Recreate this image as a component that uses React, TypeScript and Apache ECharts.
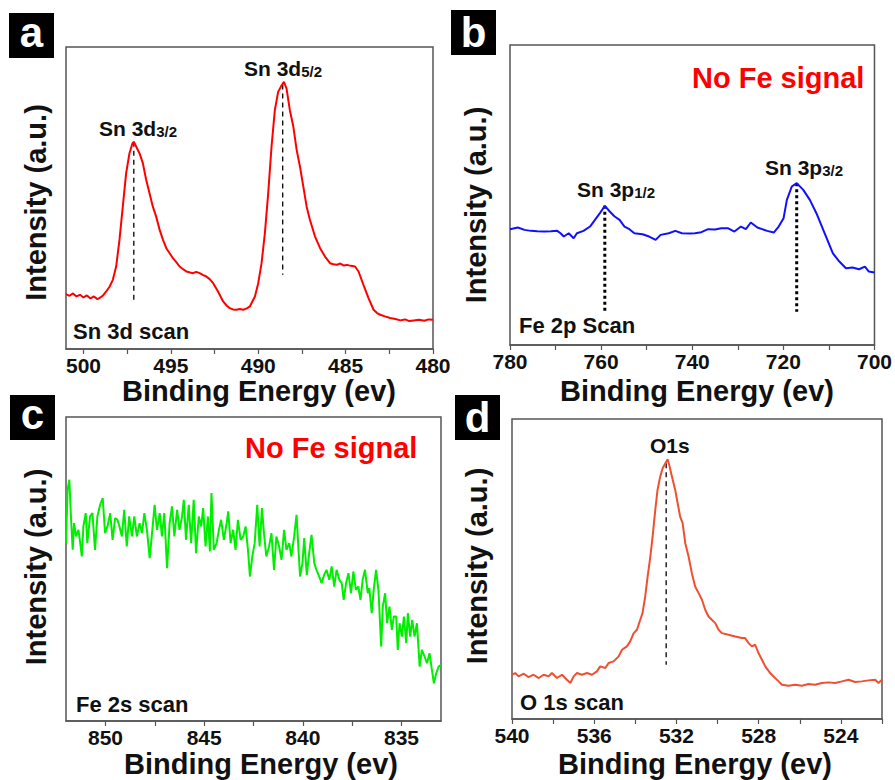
import React, { useEffect, useRef } from 'react';
import * as echarts from 'echarts';

const FONT = "'Liberation Sans', Arial, Helvetica, sans-serif";

// ---------- Panel a: Sn 3d scan ----------
const sn3dScan: [number, number][] = [
  [501.00,165],[500.80,160],[500.60,167],[500.40,158],[500.20,163],[500.00,155],[499.80,161],[499.60,152],[499.40,158],[499.20,150],[499.09,153],[498.90,160],[498.70,173],[498.50,188],[498.32,208],[498.13,248],[497.94,328],[497.75,428],[497.56,528],[497.37,588],[497.20,618],[497.12,623],[496.98,608],[496.79,588],[496.60,558],[496.41,508],[496.22,468],[496.03,428],[495.84,398],[495.64,358],[495.45,328],[495.26,303],[495.07,288],[494.88,273],[494.70,262],[494.50,248],[494.30,240],[494.11,233],[493.90,230],[493.73,228],[493.55,232],[493.35,228],[493.15,222],[492.97,218],[492.78,210],[492.58,198],[492.30,173],[492.01,143],[491.80,130],[491.63,123],[491.45,119],[491.25,118],[491.05,120],[490.86,118],[490.65,122],[490.48,128],[490.19,158],[490.00,198],[489.81,258],[489.62,348],[489.43,468],[489.24,608],[489.05,718],[488.86,773],[488.66,793],[488.53,803],[488.38,783],[488.19,718],[487.99,668],[487.80,598],[487.61,548],[487.42,488],[487.23,428],[487.04,388],[486.75,338],[486.46,303],[486.18,278],[485.89,258],[485.70,255],[485.51,253],[485.30,257],[485.10,251],[484.93,253],[484.70,250],[484.46,248],[484.26,233],[483.98,193],[483.69,153],[483.40,118],[483.20,108],[483.02,103],[482.75,98],[482.45,93],[482.15,90],[481.87,86],[481.60,89],[481.35,84],[481.11,86],[480.80,88],[480.50,85],[480.25,89],[480.00,88]
];
// [energy, top, bottom]
const sn3dPeaks: [number, number, number][] = [[497.12, 623, 148], [488.60, 795, 223]];
const aTicks = [480, 482.5, 485, 487.5, 490, 492.5, 495, 497.5, 500];
const aLabels = [480, 485, 490, 495, 500];

// ---------- Panel b: Fe 2p scan ----------
const fe2pScan: [number, number][] = [
  [780,347],[778.27,352],[776.83,345],[775.39,342],[774.00,341],[772.51,340],[771.00,341],[769.63,342],[768.91,335],[768.19,325],[767.11,335],[766.03,320],[765.31,335],[763.87,342],[762.43,355],[761.35,375],[760.27,395],[759.19,417],[758.11,400],[757.03,385],[755.95,375],[754.87,355],[753.79,347],[752.71,335],[750.91,332],[749.47,325],[748.03,315],[746.95,330],[745.15,335],[743.71,342],[742.27,335],[740.50,334],[739.39,335],[738.00,338],[736.51,347],[735.00,346],[733.63,350],[732.19,350],[730.75,340],[729.31,355],[728.23,347],[727.15,367],[725.71,352],[723.55,342],[722.11,337],[721.03,355],[719.95,380],[719.23,435],[718.15,475],[717.07,485],[715.63,465],[714.19,435],[712.75,395],[710.95,335],[709.15,275],[707.71,250],[706.27,230],[704.83,232],[703.39,227],[702.10,235],[701.23,220],[700.00,217]
];
const fe2pPeaks: [number, number, number][] = [[759.19, 417, 100], [717.07, 485, 100]];
const bTicks = [700, 710, 720, 730, 740, 750, 760, 770, 780];
const bLabels = [700, 720, 740, 760, 780];

// ---------- Panel c: Fe 2s scan ----------
const fe2sScan: [number, number][] = [
  [852.00,533],[851.92,693],[851.83,723],[851.75,613],[851.66,513],[851.59,593],[851.49,553],[851.37,573],[851.29,538],[851.20,493],[851.12,583],[851.00,623],[850.92,533],[850.78,613],[850.66,623],[850.53,513],[850.41,613],[850.27,648],[850.14,668],[850.02,563],[849.90,583],[849.76,623],[849.64,543],[849.51,608],[849.39,603],[849.29,583],[849.17,553],[849.05,633],[848.92,523],[848.80,613],[848.66,553],[848.54,613],[848.41,553],[848.27,593],[848.15,563],[848.03,623],[847.90,573],[847.76,488],[847.64,563],[847.51,648],[847.39,573],[847.25,623],[847.14,553],[847.02,623],[846.88,458],[846.75,593],[846.63,643],[846.51,553],[846.37,633],[846.25,573],[846.12,613],[846.03,663],[845.92,543],[845.78,648],[845.66,533],[845.53,663],[845.41,503],[845.27,613],[845.15,583],[845.05,638],[844.93,523],[844.81,613],[844.71,508],[844.63,683],[844.51,513],[844.37,533],[844.25,573],[844.14,603],[844.00,543],[843.86,593],[843.78,628],[843.66,533],[843.53,573],[843.41,513],[843.29,603],[843.15,543],[843.02,553],[842.90,583],[842.78,513],[842.68,433],[842.56,493],[842.44,533],[842.31,648],[842.19,523],[842.07,638],[841.97,563],[841.85,493],[841.71,523],[841.59,563],[841.46,453],[841.34,553],[841.20,523],[841.08,483],[840.95,573],[840.83,513],[840.69,533],[840.58,493],[840.44,553],[840.32,618],[840.22,513],[840.14,433],[840.02,473],[839.93,548],[839.80,438],[839.68,503],[839.56,558],[839.42,473],[839.31,453],[839.17,433],[839.05,413],[838.92,438],[838.80,453],[838.66,423],[838.54,463],[838.41,403],[838.29,453],[838.15,423],[838.03,413],[837.93,363],[837.81,413],[837.69,443],[837.56,383],[837.44,448],[837.31,393],[837.19,403],[837.08,363],[836.97,423],[836.85,453],[836.71,383],[836.63,398],[836.51,323],[836.41,393],[836.29,453],[836.17,393],[836.03,223],[835.95,343],[835.83,383],[835.73,293],[835.61,343],[835.49,273],[835.39,313],[835.27,313],[835.19,213],[835.10,293],[834.98,253],[834.88,313],[834.76,233],[834.68,323],[834.56,253],[834.46,303],[834.34,253],[834.22,293],[834.08,163],[833.97,213],[833.83,193],[833.71,173],[833.58,203],[833.46,153],[833.36,113],[833.24,143],[833.12,163],[833.00,168]
];
const cTicks = [835, 837.5, 840, 842.5, 845, 847.5, 850];
const cLabels = [835, 840, 845, 850];

// ---------- Panel d: O 1s scan ----------
const o1sScan: [number, number][] = [
  [540.00,133],[539.84,138],[539.68,128],[539.43,136],[539.19,126],[538.95,133],[538.70,123],[538.46,133],[538.22,128],[538.06,138],[537.81,123],[537.57,133],[537.33,118],[537.16,108],[537.00,128],[536.84,138],[536.60,133],[536.35,138],[536.11,133],[535.87,143],[535.71,158],[535.46,153],[535.30,168],[535.06,173],[534.81,188],[534.65,208],[534.41,218],[534.25,233],[534.08,258],[533.92,268],[533.76,298],[533.65,318],[533.52,368],[533.40,428],[533.27,488],[533.16,548],[533.03,628],[532.92,688],[532.79,728],[532.67,753],[532.54,768],[532.43,780],[532.35,763],[532.22,728],[532.06,688],[531.94,648],[531.82,608],[531.70,588],[531.57,528],[531.41,488],[531.25,438],[531.09,398],[530.92,378],[530.76,358],[530.60,328],[530.44,308],[530.28,298],[530.11,288],[529.95,268],[529.79,258],[529.47,253],[529.14,248],[528.82,243],[528.66,243],[528.49,228],[528.33,218],[528.17,223],[528.01,198],[527.84,178],[527.68,158],[527.44,138],[527.20,123],[527.03,113],[526.87,103],[526.55,100],[526.22,103],[525.90,100],[525.58,105],[525.25,103],[524.93,108],[524.60,110],[524.28,108],[523.95,113],[523.63,118],[523.31,111],[522.98,113],[522.66,116],[522.33,118],[522.17,108],[522.00,118]
];
const o1sPeaks: [number, number, number][] = [[532.50, 768, 163]];
const dTicks = [522, 524, 526, 528, 530, 532, 534, 536, 538, 540];
const dLabels = [524, 528, 532, 536, 540];

function makeX(i: number, min: number, max: number, ticks: number[], labels: number[]) {
  return {
    type: 'value', gridIndex: i, min, max, inverse: true,
    axisLine: { show: true, onZero: false, lineStyle: { color: '#555', width: 1.5 } },
    axisTick: { show: true, inside: false, length: 5, customValues: ticks, lineStyle: { color: '#555', width: 1.2 } },
    axisLabel: { show: true, customValues: labels, margin: 6, color: '#111', fontSize: 21, fontWeight: 'bold', fontFamily: FONT },
    splitLine: { show: false },
  };
}
function makeY(i: number, max: number) {
  return { type: 'value', gridIndex: i, min: 0, max, show: false, splitLine: { show: false } };
}
function curve(i: number, data: [number, number][], color: string) {
  return {
    type: 'line', xAxisIndex: i, yAxisIndex: i, data, symbol: 'none', showSymbol: false,
    lineStyle: { color, width: 2 }, silent: true,
  };
}
function guides(i: number, peaks: [number, number, number][], width: number, dash: number[]) {
  return peaks.map((p) => ({
    type: 'line', xAxisIndex: i, yAxisIndex: i, data: [[p[0], p[1]], [p[0], p[2]]], symbol: 'none', showSymbol: false,
    lineStyle: { color: '#000', width, type: dash }, silent: true, z: 1,
  }));
}

function letterBox(ch: string, x: number, y: number, dy: number) {
  return [
    { type: 'rect', shape: { x, y, width: 45, height: 45 }, style: { fill: '#000' } },
    { type: 'text', style: { text: ch, x: x + 22.5, y: y + 22.5 + dy, align: 'center', verticalAlign: 'middle', fill: '#fff', font: `bold 42px ${FONT}` } },
  ];
}
function plain(text: string, x: number, y: number, size: number, fill = '#111', align = 'left') {
  return { type: 'text', style: { text, x, y, align, verticalAlign: 'middle', fill, font: `bold ${size}px ${FONT}` } };
}
function subLabel(main: string, sub: string, x: number, y: number) {
  return {
    type: 'text',
    style: {
      text: `{m|${main}}{s|${sub}}`, x, y, align: 'left', verticalAlign: 'middle',
      rich: {
        m: { fontSize: 21, fontWeight: 'bold', fontFamily: FONT, fill: '#111', verticalAlign: 'bottom' },
        s: { fontSize: 15, fontWeight: 'bold', fontFamily: FONT, fill: '#111', verticalAlign: 'bottom' },
      },
    },
  };
}
function vTitle(x: number, y: number) {
  return {
    type: 'text', x, y, rotation: Math.PI / 2,
    style: { text: 'Intensity (a.u.)', x: 0, y: 0, align: 'center', verticalAlign: 'middle', fill: '#111', font: `bold 29px ${FONT}` },
  };
}

export default function App() {
  const ref = useRef<HTMLDivElement>(null);
  useEffect(() => {
    if (!ref.current) return;
    const chart = echarts.init(ref.current, undefined, { renderer: 'svg' });
    const option: any = {
      animation: false,
      backgroundColor: '#fff',
      grid: [
        { left: 66, top: 47, width: 367, height: 302, show: true, borderColor: '#555', borderWidth: 1.5 },
        { left: 510, top: 45, width: 371, height: 300, show: true, borderColor: '#555', borderWidth: 1.5 },
        { left: 66, top: 417, width: 375, height: 304, show: true, borderColor: '#555', borderWidth: 1.5 },
        { left: 512, top: 419, width: 370, height: 300, show: true, borderColor: '#555', borderWidth: 1.5 },
      ],
      xAxis: [
        makeX(0, 480, 501, aTicks, aLabels),
        makeX(1, 700, 780, bTicks, bLabels),
        makeX(2, 833, 852, cTicks, cLabels),
        makeX(3, 522, 540, dTicks, dLabels),
      ],
      yAxis: [makeY(0, 908), makeY(1, 899), makeY(2, 911), makeY(3, 901)],
      series: [
        ...guides(0, sn3dPeaks, 1.3, [5, 4]),
        ...guides(1, fe2pPeaks, 3, [3, 3]),
        ...guides(3, o1sPeaks, 1.3, [5, 4]),
        curve(0, sn3dScan, '#ff0000'),
        curve(1, fe2pScan, '#1010ff'),
        curve(2, fe2sScan, '#00ee00'),
        curve(3, o1sScan, '#ee5030'),
      ],
      graphic: [
        ...letterBox('a', 9, 13, -3),
        ...letterBox('b', 451, 10, 0),
        ...letterBox('c', 10, 395, -3),
        ...letterBox('d', 455, 395, 0),
        vTitle(36, 202.5), vTitle(476, 205), vTitle(36, 567), vTitle(477, 566),
        plain('Binding Energy (ev)', 259, 391, 29, '#111', 'center'),
        plain('Binding Energy (ev)', 697, 391, 29, '#111', 'center'),
        plain('Binding Energy (ev)', 261, 764, 29, '#111', 'center'),
        plain('Binding Energy (ev)', 695, 764, 29, '#111', 'center'),
        subLabel('Sn 3d', '3/2', 99, 128),
        subLabel('Sn 3d', '5/2', 244, 68),
        plain('Sn 3d scan', 73, 331, 22),
        plain('No Fe signal', 692, 78, 29, '#ff0000'),
        subLabel('Sn 3p', '1/2', 577, 189),
        subLabel('Sn 3p', '3/2', 765, 167),
        plain('Fe 2p Scan', 519, 325, 22),
        plain('No Fe signal', 245, 448, 29, '#ff0000'),
        plain('Fe 2s scan', 76, 704, 22),
        plain('O1s', 650, 445, 21),
        plain('O 1s scan', 520, 702, 22),
      ],
    };
    chart.setOption(option);
    return () => chart.dispose();
  }, []);
  return <div ref={ref} style={{ position: 'absolute', left: 0, top: 0, width: 895, height: 780 }} />;
}
